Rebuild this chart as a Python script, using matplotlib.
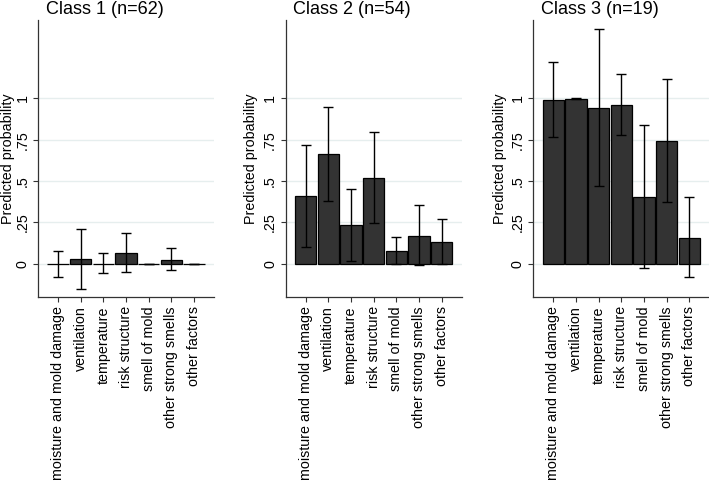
import matplotlib
matplotlib.use("Agg")
import matplotlib.pyplot as plt
import numpy as np

plt.rcParams['font.family'] = ['Liberation Sans', 'DejaVu Sans']

categories = ["moisture and mold damage", "ventilation", "temperature",
              "risk structure", "smell of mold", "other strong smells",
              "other factors"]
titles = ["Class 1 (n=62)", "Class 2 (n=54)", "Class 3 (n=19)"]

c1_mean = [0.0, 0.03, 0.0, 0.065, 0.0, 0.026, 0.0]
c1_low = [-0.077, -0.15, -0.054, -0.052, 0.0, -0.034, 0.0]
c1_high = [0.079, 0.21, 0.067, 0.185, 0.0, 0.093, 0.0]

c2_mean = [0.409, 0.661, 0.232, 0.52, 0.079, 0.171, 0.135]
c2_low = [0.105, 0.377, 0.02, 0.246, -0.002, -0.008, 0.0]
c2_high = [0.718, 0.95, 0.454, 0.796, 0.163, 0.353, 0.27]

c3_mean = [0.992, 0.998, 0.942, 0.962, 0.403, 0.742, 0.159]
c3_low = [0.766, 0.995, 0.472, 0.778, -0.024, 0.375, -0.077]
c3_high = [1.222, 1.0, 1.417, 1.147, 0.841, 1.117, 0.401]

means = [c1_mean, c2_mean, c3_mean]
lows = [c1_low, c2_low, c3_low]
highs = [c1_high, c2_high, c3_high]

yticks = [0, 0.25, 0.5, 0.75, 1]
yticklabels = ["0", ".25", ".5", ".75", "1"]

W, H = 709, 482
fig = plt.figure(figsize=(W / 100, H / 100), dpi=100)
fig.patch.set_facecolor("white")

lefts_px = [38, 285.7, 533.3]
title_cx = [105, 352, 600]
ylabel_off = [23, 27.5, 26.5]
ax_w_px = 176
top_px, bot_px = 20, 297

x = np.arange(1, len(categories) + 1)
for i in range(3):
    ax = fig.add_axes([lefts_px[i] / W, (H - bot_px) / H, ax_w_px / W, (bot_px - top_px) / H])
    m = np.array(means[i])
    lo = np.array(lows[i])
    hi = np.array(highs[i])
    for yv in yticks:
        ax.axhline(yv, color="#e6eeee", lw=1.0, zorder=0)
    ax.bar(x, m, width=0.93, color="#333333", edgecolor="black", linewidth=0.9, zorder=2)
    ax.errorbar(x, m, yerr=[m - lo, hi - m], fmt="none", ecolor="black",
                elinewidth=1.0, capsize=3.3, capthick=1.0, zorder=3)
    ax.set_xlim(0.118, 7.882)
    ax.set_ylim(-0.2, 1.473)
    ax.set_xticks(x)
    ax.set_xticklabels(categories, rotation=90, ha="center", va="top", fontsize=10.3)
    ax.set_yticks(yticks)
    ax.set_yticklabels(yticklabels, rotation=90, va="center", fontsize=10.3)
    ax.tick_params(axis="both", length=3.6, width=0.8, pad=3, color="#333333")
    ax.tick_params(axis="y", pad=2.5)
    for s in ["top", "right"]:
        ax.spines[s].set_visible(False)
    for s in ["left", "bottom"]:
        ax.spines[s].set_color("#333333")
        ax.spines[s].set_linewidth(0.9)
    ax.set_ylabel("Predicted probability", fontsize=10.3)
    ax.yaxis.set_label_coords(-ylabel_off[i] / ax_w_px, 0.5)
    fig.text(title_cx[i] / W, 1 - 1.5 / H, titles[i], ha="center", va="top", fontsize=13)

fig.savefig("out.png", dpi=100, facecolor="white")
